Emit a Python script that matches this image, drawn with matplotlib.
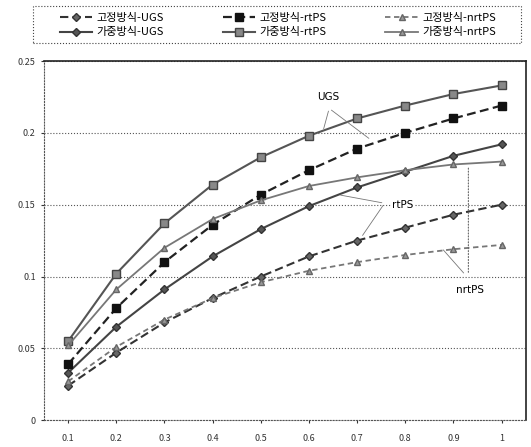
import numpy as np
import matplotlib
matplotlib.use('Agg')
import matplotlib.pyplot as plt
from matplotlib.patches import Rectangle

plt.rcParams['font.family'] = ['Noto Sans CJK KR', 'DejaVu Sans']

# 데이터
x = [0.1, 0.2, 0.3, 0.4, 0.5, 0.6, 0.7, 0.8, 0.9, 1.0]
x_labels = ['0.1', '0.2', '0.3', '0.4', '0.5', '0.6', '0.7', '0.8', '0.9', '1']

fix_ugs = [0.024, 0.047, 0.068, 0.085, 0.100, 0.114, 0.125, 0.134, 0.143, 0.150]
fix_rtps = [0.039, 0.078, 0.110, 0.136, 0.157, 0.174, 0.189, 0.200, 0.210, 0.219]
fix_nrtps = [0.027, 0.051, 0.070, 0.085, 0.096, 0.104, 0.110, 0.115, 0.119, 0.122]
var_ugs = [0.033, 0.065, 0.091, 0.114, 0.133, 0.149, 0.162, 0.173, 0.184, 0.192]
var_rtps = [0.055, 0.102, 0.137, 0.164, 0.183, 0.198, 0.210, 0.219, 0.227, 0.233]
var_nrtps = [0.052, 0.091, 0.120, 0.140, 0.153, 0.163, 0.169, 0.174, 0.178, 0.180]

fig = plt.figure(figsize=(5.31, 4.47), dpi=100)
ax = fig.add_axes([0.083, 0.060, 0.907, 0.8035])

h1, = ax.plot(x, fix_ugs, color='#333333', ls=(0, (4, 2)), lw=1.5, marker='D', ms=4,
              mfc='#666666', mec='#333333', label='고정방식-UGS')
h2, = ax.plot(x, var_ugs, color='#444444', ls='-', lw=1.5, marker='D', ms=4,
              mfc='#555555', mec='#333333', label='가중방식-UGS')
h3, = ax.plot(x, fix_rtps, color='#222222', ls=(0, (4, 2)), lw=1.6, marker='s', ms=6,
              mfc='#111111', mec='#111111', label='고정방식-rtPS')
h4, = ax.plot(x, var_rtps, color='#555555', ls='-', lw=1.5, marker='s', ms=6,
              mfc='#888888', mec='#444444', label='가중방식-rtPS')
h5, = ax.plot(x, fix_nrtps, color='#777777', ls=(0, (3, 2)), lw=1.3, marker='^', ms=5,
              mfc='#999999', mec='#666666', label='고정방식-nrtPS')
h6, = ax.plot(x, var_nrtps, color='#777777', ls='-', lw=1.3, marker='^', ms=5,
              mfc='#999999', mec='#666666', label='가중방식-nrtPS')

ax.set_xlim(0.05, 1.05)
ax.set_ylim(0, 0.25)
ax.set_xticks(x)
ax.set_xticklabels(x_labels)
ax.set_yticks([0, 0.05, 0.1, 0.15, 0.2, 0.25])
ax.set_yticklabels(['0', '0.05', '0.1', '0.15', '0.2', '0.25'])
ax.tick_params(axis='both', labelsize=6.5, length=2, colors='#333333', pad=8)
ax.tick_params(axis='y', pad=4)
ax.yaxis.grid(True, ls=':', color='#555555', lw=0.8)
ax.set_axisbelow(True)

for side in ['left', 'bottom']:
    ax.spines[side].set_linestyle(':')
    ax.spines[side].set_color('#555555')
for side in ['top', 'right']:
    ax.spines[side].set_color('#222222')
    ax.spines[side].set_linewidth(1.2)

# 주석
line_kw = dict(arrowstyle='-', color='#777777', lw=0.6)
ax.text(0.640, 0.225, 'UGS', fontsize=7.5, ha='center', va='center', family='DejaVu Sans')
ax.annotate('', xy=(0.629, 0.201), xytext=(0.642, 0.217), arrowprops=line_kw)
ax.annotate('', xy=(0.729, 0.195), xytext=(0.642, 0.217), arrowprops=line_kw)

ax.text(0.795, 0.150, 'rtPS', fontsize=7.5, ha='center', va='center', family='DejaVu Sans',
        bbox=dict(fc='white', ec='none', pad=1))
ax.annotate('', xy=(0.660, 0.157), xytext=(0.757, 0.151), arrowprops=line_kw)
ax.annotate('', xy=(0.708, 0.127), xytext=(0.757, 0.151), arrowprops=line_kw)

ax.text(0.935, 0.0905, 'nrtPS', fontsize=7.5, ha='center', va='center', family='DejaVu Sans')
ax.annotate('', xy=(0.931, 0.178), xytext=(0.931, 0.101),
            arrowprops=dict(arrowstyle='-', color='#666666', lw=0.8, ls=':'))
ax.annotate('', xy=(0.875, 0.120), xytext=(0.925, 0.101), arrowprops=line_kw)

# 범례
leg = fig.legend(handles=[h1, h2, h3, h4, h5, h6], ncol=3, fontsize=8,
                 loc='upper left', bbox_to_anchor=(60 / 531, 1 - 13 / 447),
                 frameon=False, handlelength=2.9, handletextpad=0.4,
                 borderpad=0, borderaxespad=0, labelspacing=0.4, columnspacing=5.3)
fig.patches.append(Rectangle((33 / 531, 1 - 43 / 447), 488 / 531, 37 / 447,
                             transform=fig.transFigure, fill=False, ls=':',
                             ec='#444444', lw=0.8))

fig.savefig('out.png', dpi=100)
